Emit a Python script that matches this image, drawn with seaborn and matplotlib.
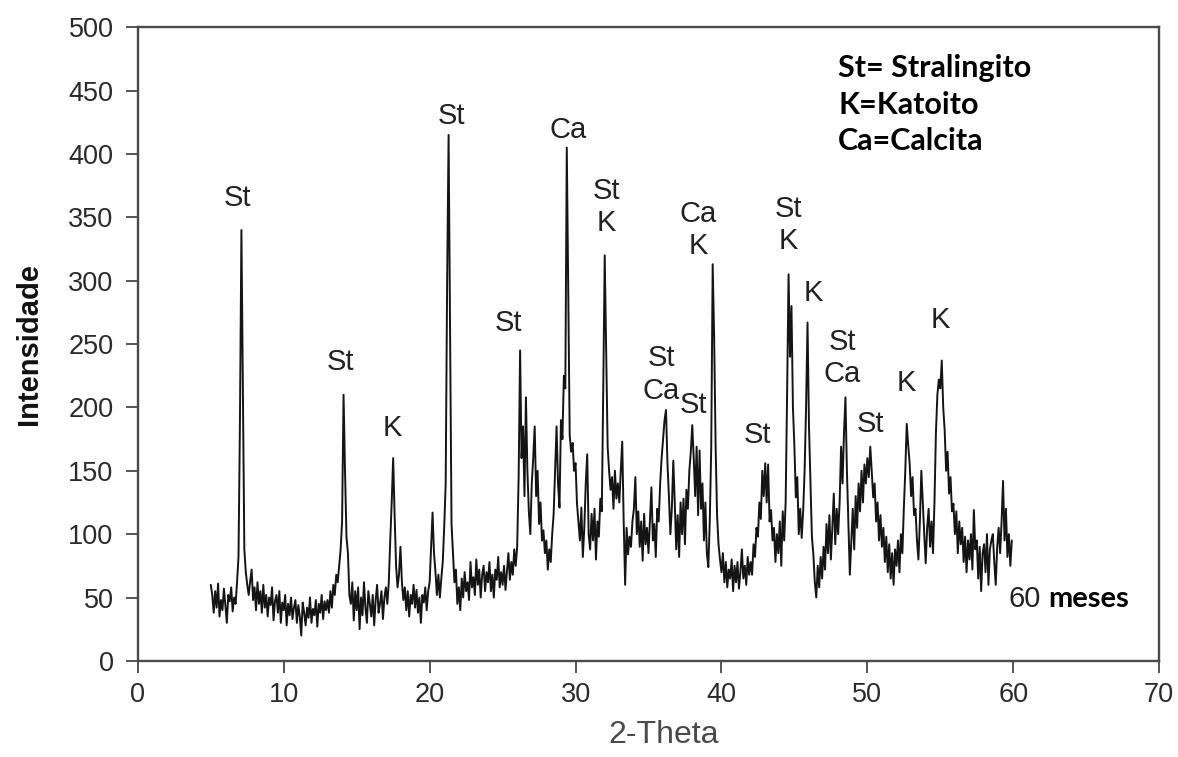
import numpy as np
import pandas as pd
import matplotlib
matplotlib.use("Agg")
import matplotlib.pyplot as plt
import seaborn as sns

# 2-theta scan: start 5.0, step 0.1 (one row of intensities per degree)
theta_start = 5.0
theta_step = 0.1

intensity = [
    60, 52, 38, 55, 42, 61, 35, 48, 40, 57,          # 5
    44, 30, 52, 47, 58, 39, 50, 45, 62, 82,          # 6
    190, 340, 215, 88, 70, 60, 52, 63, 72, 48,       # 7
    58, 40, 62, 45, 55, 38, 60, 42, 52, 35,          # 8
    50, 44, 58, 32, 47, 52, 38, 55, 30, 46,          # 9
    40, 52, 28, 45, 36, 50, 33, 42, 48, 30,          # 10
    44, 35, 20, 46, 38, 28, 42, 34, 50, 30,          # 11
    41, 36, 48, 27, 45, 38, 52, 33, 47, 40,          # 12
    48, 38, 55, 42, 60, 52, 68, 62, 75, 88,          # 13
    110, 210, 150, 98, 85, 52, 45, 62, 32, 55,       # 14
    40, 58, 25, 50, 36, 62, 42, 30, 55, 45,          # 15
    35, 52, 28, 48, 60, 38, 45, 55, 33, 50,          # 16
    58, 45, 62, 95, 125, 160, 115, 75, 58, 68,       # 17
    90, 62, 48, 58, 40, 55, 35, 52, 45, 60,          # 18
    42, 56, 38, 50, 30, 52, 46, 58, 40, 55,          # 19
    62, 90, 117, 85, 70, 52, 68, 50, 65, 78,         # 20
    106, 140, 300, 415, 260, 108, 85, 62, 72, 45,    # 21
    58, 40, 65, 50, 70, 55, 62, 48, 78, 58,          # 22
    66, 52, 80, 60, 72, 50, 68, 75, 55, 70,          # 23
    62, 78, 55, 68, 50, 72, 64, 82, 58, 70,          # 24
    60, 75, 56, 70, 85, 64, 78, 68, 88, 75,          # 25
    90, 145, 245, 160, 185, 130, 208, 150, 118, 100, # 26
    140, 160, 185, 130, 150, 108, 125, 95, 103, 85,  # 27
    95, 72, 88, 78, 100, 116, 150, 185, 140, 121,    # 28
    190, 175, 225, 215, 405, 290, 178, 165, 172, 150, # 29
    156, 124, 110, 95, 121, 82, 105, 140, 163, 100,  # 30
    88, 116, 95, 120, 80, 110, 98, 128, 118, 215,    # 31
    320, 245, 169, 150, 135, 145, 120, 150, 128, 140, # 32
    125, 150, 173, 110, 60, 105, 84, 98, 90, 110,    # 33
    120, 145, 100, 118, 90, 110, 79, 116, 92, 105,   # 34
    85, 112, 137, 95, 108, 82, 120, 110, 140, 160,   # 35
    175, 190, 198, 156, 130, 100, 120, 158, 125, 88, # 36
    115, 82, 125, 100, 128, 92, 135, 120, 150, 165,  # 37
    186, 160, 130, 169, 115, 166, 120, 140, 95, 125, # 38
    85, 74, 110, 168, 313, 255, 170, 115, 92, 80,    # 39
    70, 85, 62, 78, 58, 72, 65, 80, 55, 75,          # 40
    62, 78, 57, 70, 88, 65, 75, 60, 82, 68,          # 41
    78, 68, 92, 82, 105, 98, 125, 112, 150, 130,     # 42
    156, 125, 155, 110, 119, 95, 105, 78, 100, 85,   # 43
    110, 75, 118, 95, 125, 210, 305, 240, 280, 200,  # 44
    169, 129, 145, 100, 120, 97, 118, 150, 200, 267, # 45
    185, 140, 98, 84, 62, 50, 75, 58, 82, 65,        # 46
    90, 72, 108, 85, 115, 80, 105, 132, 92, 120,     # 47
    100, 125, 169, 140, 180, 208, 150, 110, 68, 95,  # 48
    120, 88, 130, 105, 140, 118, 150, 125, 155, 140, # 49
    160, 145, 169, 150, 129, 140, 110, 125, 95, 115, # 50
    90, 105, 78, 98, 70, 92, 65, 85, 60, 88,         # 51
    75, 95, 70, 100, 85, 120, 150, 187, 170, 156,    # 52
    130, 145, 115, 120, 95, 80, 110, 150, 125, 100,  # 53
    77, 105, 120, 90, 110, 85, 125, 180, 210, 222,   # 54
    215, 237, 200, 182, 150, 165, 132, 145, 118, 124, # 55
    100, 118, 85, 110, 92, 105, 78, 98, 70, 95,      # 56
    80, 100, 72, 119, 88, 95, 65, 90, 55, 85,        # 57
    92, 70, 100, 60, 88, 95, 100, 78, 60, 90,        # 58
    105, 85, 110, 142, 95, 120, 82, 100, 75, 95,     # 59
]

# phase labels: text, 2-theta, intensity position
label_texts = ["St", "St", "K", "St", "St", "Ca", "St\nK", "St\nCa", "St",
               "Ca\nK", "St", "St\nK", "K", "St\nCa", "St", "K", "K"]
label_x = [6.8, 13.9, 17.45, 21.5, 25.4, 29.5, 32.1, 35.9, 38.1,
           38.4, 42.5, 44.6, 46.3, 48.3, 50.2, 52.7, 55.0]
label_y = [365, 236, 184, 430, 267, 419, 358, 226, 202,
           340, 178, 344, 290, 239, 187, 219, 269]

legend_lines = ["St= Stralingito", "K=Katoito", "Ca=Calcita"]

theta = theta_start + theta_step * np.arange(len(intensity))
df = pd.DataFrame({"2-Theta": theta, "Intensidade": intensity})

sns.set_style("ticks")
plt.rcParams["font.family"] = ["Liberation Sans", "DejaVu Sans"]

fig = plt.figure(figsize=(11.78, 7.57), dpi=100)
ax = fig.add_axes([0.117, 0.127, 0.867, 0.837])

sns.lineplot(data=df, x="2-Theta", y="Intensidade", ax=ax,
             color="#141414", linewidth=1.4, estimator=None)

ax.set_xlim(0, 70)
ax.set_ylim(0, 500)
ax.set_xticks(range(0, 71, 10))
ax.set_yticks(range(0, 501, 50))
ax.tick_params(direction="out", length=8.5, width=1.4, colors="#555555",
               labelsize=19.5, labelcolor="#2a2a2a")
ax.tick_params(axis="y", pad=9)
ax.tick_params(axis="x", pad=7)
for s in ax.spines.values():
    s.set_color("#4a4a4a")
    s.set_linewidth(1.7)

ax.set_xlabel("2-Theta", fontsize=23, color="#4a4a4a")
ax.xaxis.set_label_coords(0.515, -0.094)
ax.set_ylabel("Intensidade", fontsize=21, fontweight="bold", color="#111111",
              labelpad=18)

for t, x, y in zip(label_texts, label_x, label_y):
    ax.text(x, y, t, ha="center", va="center", fontsize=21, color="#222222",
            linespacing=1.2)

leg_y = [468, 439, 410]
for t, y in zip(legend_lines, leg_y):
    ax.text(48.0, y, t, ha="left", va="center", fontsize=22,
            fontweight="bold", family=["Lato", "DejaVu Sans"], color="#000000")

ax.text(59.7, 49, "60", ha="left", va="center", fontsize=21, color="#222222")
ax.text(62.4, 49, "meses", ha="left", va="center", fontsize=21,
        fontweight="bold", family=["Lato", "DejaVu Sans"], color="#000000")

fig.savefig("out.png", dpi=100)
